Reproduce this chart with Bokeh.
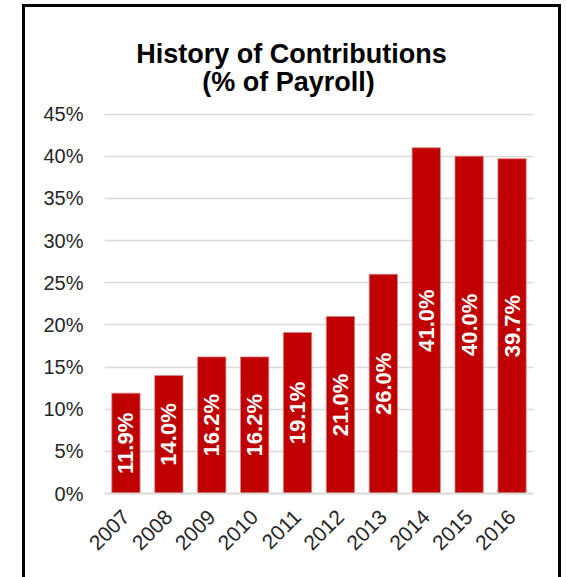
import math
from bokeh.plotting import figure
from bokeh.models import FactorRange, Range1d, Label, ColumnDataSource, FixedTicker
from bokeh.core.properties import value
from bokeh.embed import file_html
from bokeh.resources import INLINE

years = ["2007", "2008", "2009", "2010", "2011", "2012", "2013", "2014", "2015", "2016"]
contributions = [11.9, 14.0, 16.2, 16.2, 19.1, 21.0, 26.0, 41.0, 40.0, 39.7]
bar_labels = ["11.9%", "14.0%", "16.2%", "16.2%", "19.1%", "21.0%", "26.0%", "41.0%", "40.0%", "39.7%"]
y_ticks = [0, 5, 10, 15, 20, 25, 30, 35, 40, 45]
title_lines = ["History of Contributions", "(% of Payroll)"]

FONT = "Liberation Sans"
RED = "#C00000"

src = ColumnDataSource(dict(
    year=years,
    value=contributions,
    mid=[v / 2 for v in contributions],
    label=bar_labels,
))

# the plot frame reaches the top of the chart box so the title can sit inside it
p = figure(
    width=539, height=577,
    x_range=FactorRange(factors=years, range_padding=0),
    y_range=Range1d(0, 57.63),
    output_backend="svg", toolbar_location=None,
    min_border_left=79, min_border_right=31,
    min_border_top=0, min_border_bottom=91,
    title=None,
)
p.styles = {"border": "3px solid black", "margin-left": "22px", "margin-top": "4px"}
p.outline_line_color = None
p.background_fill_color = "white"
p.border_fill_color = "white"

p.vbar(x="year", top="value", width=0.66, source=src,
       fill_color=RED, line_color="#D8898A", line_width=0.8)

p.text(x="year", y="mid", text="label", source=src, angle=math.pi / 2,
       text_align="center", text_baseline="middle", text_color="white",
       text_font=value(FONT), text_font_style="bold", text_font_size="22px")

# axes
p.xgrid.grid_line_color = None
p.ygrid.grid_line_color = "#D9D9D9"
p.ygrid.grid_line_width = 1.5
p.yaxis.ticker = FixedTicker(ticks=y_ticks)
p.yaxis.major_label_overrides = {t: f"{t}%" for t in y_ticks}
p.yaxis.axis_line_color = None
p.yaxis.major_tick_line_color = None
p.yaxis.minor_tick_line_color = None
p.yaxis.major_label_standoff = 15
p.yaxis.major_label_text_font = FONT
p.yaxis.major_label_text_font_size = "20px"
p.yaxis.major_label_text_color = "#262626"

p.xaxis.axis_line_color = "#D9D9D9"
p.xaxis.axis_line_width = 2
p.xaxis.major_tick_line_color = None
p.xaxis.minor_tick_line_color = None
p.xaxis.major_label_orientation = math.pi / 4
p.xaxis.major_label_standoff = 14
p.xaxis.major_label_text_font = FONT
p.xaxis.major_label_text_font_size = "21px"
p.xaxis.major_label_text_color = "#262626"

# title (two centered lines)
p.add_layout(Label(x=4.36, y=52.14, text=title_lines[0], text_align="center",
                   text_baseline="alphabetic", text_font=FONT, text_font_style="bold",
                   text_font_size="27px", text_color="black"))
p.add_layout(Label(x=4.29, y=48.77, text=title_lines[1], text_align="center",
                   text_baseline="alphabetic", text_font=FONT, text_font_style="bold",
                   text_font_size="27px", text_color="black"))

open("out.html", "w").write(file_html(p, INLINE))
